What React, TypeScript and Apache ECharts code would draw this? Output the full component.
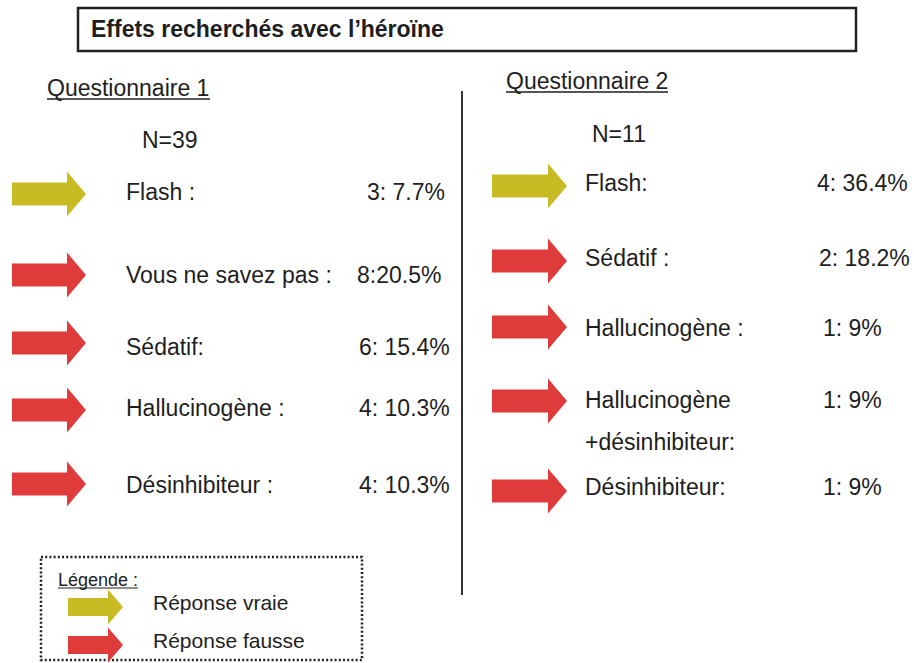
import React, { useEffect, useRef } from "react";
import * as echarts from "echarts";

const TITLE = "Effets recherchés avec l’héroïne";
const Q1_TITLE = "Questionnaire 1";
const Q2_TITLE = "Questionnaire 2";
const Q1_N = "N=39";
const Q2_N = "N=11";

const q1Labels = ["Flash :", "Vous ne savez pas :", "Sédatif:", "Hallucinogène :", "Désinhibiteur :"];
const q1Values = ["3: 7.7%", "8:20.5%", "6: 15.4%", "4: 10.3%", "4: 10.3%"];
const q1True = [true, false, false, false, false];

const q2Labels = ["Flash:", "Sédatif :", "Hallucinogène :", "Hallucinogène\n+désinhibiteur:", "Désinhibiteur:"];
const q2Values = ["4: 36.4%", "2: 18.2%", "1: 9%", "1: 9%", "1: 9%"];
const q2True = [true, false, false, false, false];

const legendTitle = "Légende :";
const legendLabels = ["Réponse vraie", "Réponse fausse"];

// layout
const Q1_ARROW_Y = [194, 275, 343, 410, 484];
const Q1_TEXT_Y = [192, 275, 347, 408, 485];
const Q1_VAL_X = [367, 357, 359, 359, 359];
const Q2_ARROW_Y = [186, 261, 327, 401, 491];
const Q2_TEXT_Y = [183, 258, 328, 400, 487];
const Q2_VAL_X = [817, 819, 823, 823, 823];

const YELLOW = "#C8BB24";
const RED = "#E03B3B";
const TXT = "#1e1e1e";
const FONT = "'Liberation Sans', Arial, Helvetica, sans-serif";

function arrow(x: number, cy: number, bodyLen: number, headLen: number, bodyH: number, headH: number, color: string) {
  const b = bodyH / 2;
  const h = headH / 2;
  return {
    type: "polygon",
    shape: {
      points: [
        [x, cy - b],
        [x + bodyLen, cy - b],
        [x + bodyLen, cy - h],
        [x + bodyLen + headLen, cy],
        [x + bodyLen, cy + h],
        [x + bodyLen, cy + b],
        [x, cy + b],
      ],
    },
    style: { fill: color },
  };
}

function txt(x: number, y: number, s: string, size = 23, weight = "normal") {
  return {
    type: "text",
    x,
    y,
    style: {
      text: s,
      font: `${weight} ${size}px ${FONT}`,
      fill: TXT,
      verticalAlign: "middle",
    },
  };
}

function uline(x1: number, x2: number, y: number, w = 1.5) {
  return { type: "line", shape: { x1, y1: y, x2, y2: y }, style: { stroke: TXT, lineWidth: w } };
}

export default function App() {
  const ref = useRef<HTMLDivElement>(null);
  useEffect(() => {
    if (!ref.current) return;
    const chart = echarts.init(ref.current, undefined, { renderer: "svg" });
    const g: any[] = [];
    // title box
    g.push({ type: "rect", shape: { x: 78, y: 8, width: 778, height: 43 }, style: { fill: "#fff", stroke: "#222", lineWidth: 2.5 } });
    g.push(txt(91, 29, TITLE, 23, "bold"));
    // questionnaire titles
    g.push(txt(47, 88, Q1_TITLE));
    g.push(uline(47, 210, 99));
    g.push(txt(142, 140, Q1_N));
    g.push(txt(506, 81, Q2_TITLE));
    g.push(uline(506, 668, 92));
    g.push(txt(592, 134, Q2_N));
    // divider
    g.push({ type: "line", shape: { x1: 462, y1: 91, x2: 462, y2: 595 }, style: { stroke: "#333", lineWidth: 2 } });
    // Q1 rows
    q1Labels.forEach((l, i) => {
      g.push(arrow(12, Q1_ARROW_Y[i], 55, 19, 23, 45, q1True[i] ? YELLOW : RED));
      g.push(txt(126, Q1_TEXT_Y[i], l));
      g.push(txt(Q1_VAL_X[i], Q1_TEXT_Y[i], q1Values[i]));
    });
    // Q2 rows
    q2Labels.forEach((l, i) => {
      g.push(arrow(492, Q2_ARROW_Y[i], 56, 19, 23, 45, q2True[i] ? YELLOW : RED));
      const y = Q2_TEXT_Y[i];
      const parts = l.split("\n");
      parts.forEach((p, k) => g.push(txt(585, y + k * 42, p)));
      g.push(txt(Q2_VAL_X[i], y, q2Values[i]));
    });
    // legend
    g.push({ type: "rect", shape: { x: 41, y: 557, width: 321, height: 103 }, style: { fill: "none", stroke: "#222", lineWidth: 2.5, lineDash: [2, 2.2] } });
    g.push(txt(58, 580, legendTitle, 18));
    g.push(uline(58, 138, 588, 1.2));
    g.push(arrow(68, 607, 40, 15, 18, 35, YELLOW));
    g.push(arrow(68, 645, 40, 15, 18, 35, RED));
    g.push(txt(153, 602, legendLabels[0], 21));
    g.push(txt(153, 640, legendLabels[1], 21));

    chart.setOption({ animation: false, backgroundColor: "#fff", graphic: { elements: g } });
    return () => chart.dispose();
  }, []);
  return <div ref={ref} style={{ width: 914, height: 663, position: "absolute", left: 0, top: 0 }} />;
}
